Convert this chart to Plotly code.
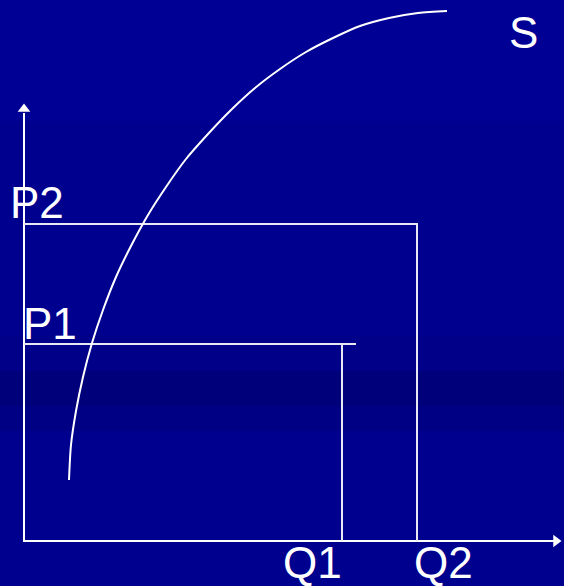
import plotly.graph_objects as go

# quantities / prices measured from the origin of the diagram
q_labels = ["Q1", "Q2"]
q_values = [318, 393]
p_labels = ["P1", "P2"]
p_values = [197, 317]
p1_line_end = 332          # P1 guide line overshoots Q1 a little
q_axis_max = 538
p_axis_max = 438

# supply curve S
s_q = [45, 47, 52, 59, 68, 79, 92, 107, 124, 142, 162,
       184, 207, 231, 256, 282, 309, 336, 365, 394, 423]
s_p = [61, 96, 130, 164, 198, 231, 264, 295, 326, 354, 382,
       407, 431, 453, 472, 489, 503, 515, 523, 528, 530]

white = "white"
font = dict(family="Liberation Sans, Arial, sans-serif", size=44, color=white)

fig = go.Figure()

# axes
fig.add_trace(go.Scatter(x=[0, 0, q_axis_max - 8], y=[p_axis_max - 10, 0, 0], mode="lines",
                         line=dict(color=white, width=2)))
fig.add_trace(go.Scatter(x=[0], y=[p_axis_max - 6], mode="markers",
                         marker=dict(symbol="triangle-up", size=11, color=white)))
fig.add_trace(go.Scatter(x=[q_axis_max - 6], y=[0], mode="markers",
                         marker=dict(symbol="triangle-right", size=11, color=white)))

# P2 / Q2 box
fig.add_trace(go.Scatter(x=[0, q_values[1], q_values[1]], y=[p_values[1], p_values[1], 0],
                         mode="lines", line=dict(color="#e8e8f4", width=2)))
# P1 / Q1 lines
fig.add_trace(go.Scatter(x=[0, p1_line_end], y=[p_values[0], p_values[0]],
                         mode="lines", line=dict(color="#e8e8f4", width=2)))
fig.add_trace(go.Scatter(x=[q_values[0], q_values[0]], y=[p_values[0], 0],
                         mode="lines", line=dict(color="#e8e8f4", width=2)))

# supply curve
fig.add_trace(go.Scatter(x=s_q, y=s_p, mode="lines",
                         line=dict(color=white, width=2, shape="spline", smoothing=0.8)))

# labels
fig.add_annotation(x=-16, y=p_values[1] - 5, text=p_labels[1], showarrow=False,
                   xanchor="left", yanchor="bottom", font=font)
fig.add_annotation(x=-3, y=p_values[0] - 6, text=p_labels[0], showarrow=False,
                   xanchor="left", yanchor="bottom", font=font)
fig.add_annotation(x=q_values[0] - 61, y=5, text=q_labels[0], showarrow=False,
                   xanchor="left", yanchor="top", font=font)
fig.add_annotation(x=q_values[1] - 5, y=5, text=q_labels[1], showarrow=False,
                   xanchor="left", yanchor="top", font=font)
fig.add_annotation(x=483, y=509, text="S", showarrow=False,
                   xanchor="left", yanchor="middle", font=font)

# background bands
bg = [
    (-45, 541, "#00008f"),
    (420, 541, "#000094"),
    (170, 205, "#000088"),
    (130, 170, "#00007a"),
    (110, 135, "#000084"),
]
for y0, y1, c in bg:
    fig.add_shape(type="rect", xref="x", yref="y", x0=-24, x1=540, y0=y0, y1=y1,
                  fillcolor=c, line=dict(width=0), layer="below")

fig.update_layout(
    width=564, height=586,
    margin=dict(l=0, r=0, t=0, b=0),
    paper_bgcolor="#00008f", plot_bgcolor="#00008f",
    showlegend=False,
    xaxis=dict(range=[-24, 540], visible=False, fixedrange=True),
    yaxis=dict(range=[-45, 541], visible=False, fixedrange=True),
)

fig.write_html("out.html", config={"displayModeBar": False},
               post_script="document.body.style.margin='0';")
